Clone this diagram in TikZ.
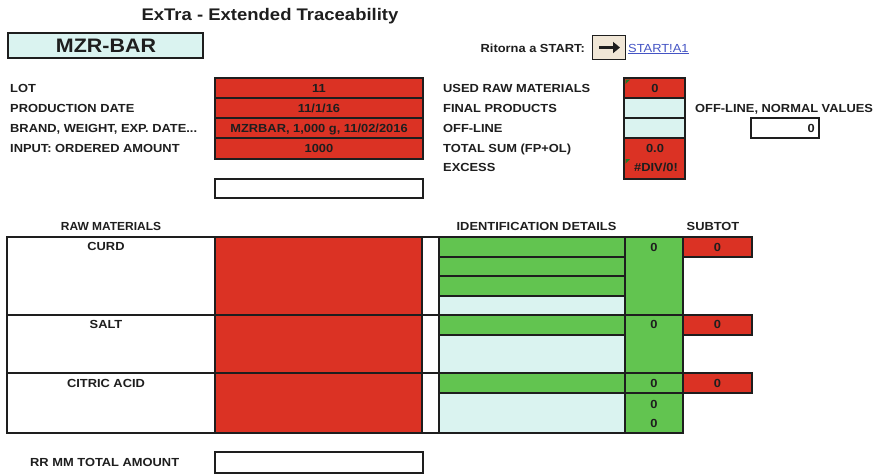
\documentclass[tikz,border=0pt]{standalone}
\usepackage{fontspec}
\setmainfont{Liberation Sans}[FakeStretch=1.1]
\usetikzlibrary{arrows.meta}
\definecolor{cellred}{RGB}{219,50,36}
\definecolor{cellgreen}{RGB}{98,196,80}
\definecolor{cellcyan}{RGB}{218,243,240}
\definecolor{btnbeige}{RGB}{240,230,214}
\definecolor{linkblue}{RGB}{68,84,196}
\definecolor{ink}{RGB}{30,30,30}
\definecolor{marker}{RGB}{30,120,40}

\begin{document}
\begin{tikzpicture}[x=1pt, y=-1pt,
  txt/.style={inner sep=0pt, text=ink, font=\fontsize{11.7}{14}\selectfont\bfseries},
  heavy/.style={draw=ink, line width=2.4pt},
  light/.style={draw=ink, line width=1.4pt}]
\useasboundingbox (0,0) rectangle (879,475);
\node[txt, anchor=base, font=\fontsize{16.8}{20}\selectfont\bfseries] (title) at (270,20) {ExTra - Extended Traceability};
\draw[heavy, fill=cellcyan] (8,33) rectangle (203,58);
\node[txt, anchor=base, font=\fontsize{19.5}{22}\selectfont\bfseries] (code) at (106,52.5) {MZR-BAR};
\node[txt, anchor=base east] (back) at (585,52) {Ritorna a START:};
\draw[draw=ink, line width=0.8pt, fill=btnbeige] (592,35) rectangle (625,59);
\coordinate (arrowfrom) at (599,47.5);
\coordinate (arrowto) at (620,47.5);
\draw[ink, line width=3.2pt, -{Triangle[length=7pt, width=11pt]}] (arrowfrom) -- (arrowto);
\node[inner sep=0pt, anchor=base west, text=linkblue, font=\fontsize{11.7}{14}\selectfont] (link) at (628,52) {START!A1};
\draw[linkblue, line width=0.8pt] ([yshift=-1.8pt]link.base west) -- ([yshift=-1.8pt]link.base east);
\node[txt, anchor=base west] (lot) at (10,92.5) {LOT};
\node[txt, anchor=base west] (proddate) at (10,112.5) {PRODUCTION DATE};
\node[txt, anchor=base west] (brand) at (10,132.5) {BRAND, WEIGHT, EXP. DATE...};
\node[txt, anchor=base west] (input) at (10,152.5) {INPUT: ORDERED AMOUNT};
\draw[heavy, fill=cellred] (215,78) rectangle (423,159);
\draw[light] (215,98) -- (423,98);
\draw[light] (215,118) -- (423,118);
\draw[light] (215,138) -- (423,138);
\node[txt, anchor=base] (lotval) at (319,92.5) {11};
\node[txt, anchor=base] (dateval) at (319,112.5) {11/1/16};
\node[txt, anchor=base] (brandval) at (319,132.5) {MZRBAR, 1,000 g, 11/02/2016};
\node[txt, anchor=base] (inputval) at (319,152.5) {1000};
\draw[heavy] (215,179) rectangle (423,198);
\node[txt, anchor=base west] (used) at (443,92.5) {USED RAW MATERIALS};
\node[txt, anchor=base west] (final) at (443,112.5) {FINAL PRODUCTS};
\node[txt, anchor=base west] (offline) at (443,132.5) {OFF-LINE};
\node[txt, anchor=base west] (total) at (443,152.5) {TOTAL SUM (FP+OL)};
\node[txt, anchor=base west] (excess) at (443,171) {EXCESS};
\fill[cellred] (624,78) rectangle (685,98);
\fill[cellcyan] (624,98) rectangle (685,138);
\fill[cellred] (624,138) rectangle (685,179);
\draw[light] (624,98) -- (685,98);
\draw[light] (624,118) -- (685,118);
\draw[light] (624,138) -- (685,138);
\draw[heavy] (624,78) rectangle (685,179);
\fill[marker] (625.5,79.5) -- (630,79.5) -- (625.5,84) -- cycle;
\fill[marker] (625.5,159) -- (630,159) -- (625.5,163.5) -- cycle;
\node[txt, anchor=base] (usedval) at (655,92.5) {0};
\node[txt, anchor=base] (totalval) at (655,152.5) {0.0};
\node[txt, anchor=base] (excessval) at (656,171) {\#DIV/0!};
\node[txt, anchor=base west] (normal) at (695,112.5) {OFF-LINE, NORMAL VALUES};
\draw[heavy] (751,118) rectangle (819,138);
\node[txt, anchor=base east] (normalval) at (815,132.5) {0};
\node[txt, anchor=base] (rawhead) at (111,230.5) {\scalebox{0.93}[1]{RAW MATERIALS}};
\node[txt, anchor=base] (idhead) at (536.5,230.5) {IDENTIFICATION DETAILS};
\node[txt, anchor=base] (subhead) at (713,230.5) {SUBTOT};
\fill[cellred] (215,237) rectangle (422,433);
\fill[cellgreen] (439,237) rectangle (625,296);
\fill[cellcyan] (439,296) rectangle (625,315);
\fill[cellgreen] (439,315) rectangle (625,335);
\fill[cellcyan] (439,335) rectangle (625,373);
\fill[cellgreen] (439,373) rectangle (625,393);
\fill[cellcyan] (439,393) rectangle (625,433);
\fill[cellgreen] (625,237) rectangle (683,433);
\draw[light] (7,237) rectangle (439,433);
\draw[light] (7,315) -- (439,315);
\draw[light] (7,373) -- (439,373);
\draw[heavy] (215,237) -- (215,433);
\draw[heavy] (422,237) -- (422,433);
\draw[light] (439,237) -- (625,237);
\draw[light] (439,257) -- (625,257);
\draw[light] (439,276) -- (625,276);
\draw[light] (439,296) -- (625,296);
\draw[light] (439,315) -- (625,315);
\draw[light] (439,335) -- (625,335);
\draw[light] (439,373) -- (625,373);
\draw[light] (439,393) -- (625,393);
\draw[light] (439,433) -- (625,433);
\draw[heavy] (625,237) rectangle (683,433);
\draw[heavy] (625,315) -- (683,315);
\draw[heavy] (625,373) -- (683,373);
\draw[heavy] (625,393) -- (683,393);
\draw[heavy, fill=cellred] (683,237) rectangle (752,257);
\draw[heavy, fill=cellred] (683,315) rectangle (752,335);
\draw[heavy, fill=cellred] (683,373) rectangle (752,393);
\node[txt, anchor=base] (curd) at (106,250.5) {CURD};
\node[txt, anchor=base] (salt) at (106,328.5) {SALT};
\node[txt, anchor=base] (citric) at (106,387.5) {CITRIC ACID};
\node[txt, anchor=base] (curdqty) at (654,251) {0};
\node[txt, anchor=base] (saltqty) at (654,328.5) {0};
\node[txt, anchor=base] (citricqty) at (654,387.5) {0};
\node[txt, anchor=base] (extraqty) at (654,408.5) {0};
\node[txt, anchor=base] (extraqtyb) at (654,427.5) {0};
\node[txt, anchor=base] (curdsub) at (717.5,251) {0};
\node[txt, anchor=base] (saltsub) at (717.5,328.5) {0};
\node[txt, anchor=base] (citricsub) at (717.5,387.5) {0};
\node[txt, anchor=base west] (rrtotal) at (30,466.5) {RR MM TOTAL AMOUNT};
\draw[heavy] (215,452) rectangle (423,473);
\end{tikzpicture}
\end{document}
